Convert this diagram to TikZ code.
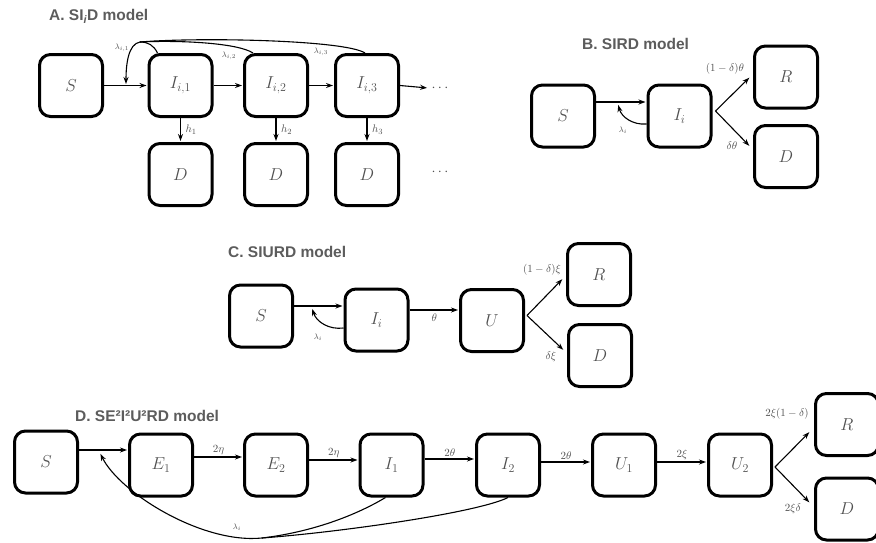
\documentclass[tikz,border=0pt]{standalone}
\usepackage{fontspec}
\newfontfamily\headfont{Liberation Sans}
\usetikzlibrary{arrows.meta}
\definecolor{txtgray}{HTML}{505050}
\definecolor{headgray}{HTML}{5C5C5C}
\tikzset{
  comp/.style={draw=black, line width=3pt, rounded corners=11pt,
    minimum width=63pt, minimum height=62pt, text=txtgray,
    font=\fontsize{18}{20}\selectfont},
  flow/.style={line width=1.1pt, -{Stealth[length=7pt,width=5pt]}, shorten >=1pt},
  feed/.style={line width=1.1pt},
  rate/.style={text=txtgray, font=\fontsize{11}{13}\selectfont, inner sep=1.5pt},
  small/.style={text=txtgray, font=\fontsize{8.5}{10}\selectfont, inner sep=1pt},
  head/.style={text=headgray, font=\headfont\bfseries\fontsize{15.5}{17}\selectfont,
    anchor=west, inner sep=0pt}
}
\begin{document}
\begin{tikzpicture}[x=1pt,y=-1pt]
\useasboundingbox (0,0) rectangle (876,542);
\clip (0,0) rectangle (876,542);

% A. SI_iD model
\node[head] (titleA) at (49,16) {A. SI\textsubscript{\itshape i}D model};
\node[comp] (SA) at (71,85.5) {$S$};
\foreach \k/\x in {1/180.5,2/276,3/367}{
  \node[comp] (IA\k) at (\x,85.5) {$I_{i,\k}$};
  \node[comp] (DA\k) at (\x,174.5) {$D$};
  \draw[flow] (IA\k.south) -- node[rate,right,xshift=3pt]{$h_\k$} (DA\k.north);
}
\node[text=txtgray,font=\fontsize{14}{16}\selectfont] (dotsA) at (440,88) {$\cdots$};
\node[text=txtgray,font=\fontsize{14}{16}\selectfont] (dotsD) at (440,172) {$\cdots$};
\draw[flow] (SA.east) -- (IA1.west);
\draw[flow] (IA1.east) -- (IA2.west);
\draw[flow] (IA2.east) -- (IA3.west);
\draw[flow] (IA3.east) -- (dotsA.west);
\coordinate (topA) at (140,42);
\coordinate (tipA) at (126,85);
\draw[feed] ([xshift=-23pt]IA1.north) .. controls +(-4,-8) and +(8,0) .. (topA);
\draw[feed] ([xshift=-23pt]IA2.north) .. controls +(-15,-10) and +(40,-2) .. (topA);
\draw[feed] ([xshift=-2pt]IA3.north) .. controls +(-20,-13) and +(60,-5) .. (topA);
\draw[flow] (topA) .. controls +(-12,2) and +(0,-20) .. (tipA);
\node[small] (lamA1) at (122,48) {$\lambda_{i,1}$};
\node[small] (lamA2) at (229,56) {$\lambda_{i,2}$};
\node[small] (lamA3) at (321,52) {$\lambda_{i,3}$};

% B. SIRD model
\node[head] (titleB) at (582,44) {B. SIRD model};
\node[comp] (SB) at (563,116) {$S$};
\node[comp] (IB) at (679.5,116) {$I_i$};
\node[comp] (RB) at (786,77) {$R$};
\node[comp] (DB) at (786,156.5) {$D$};
\draw[flow] ([yshift=14pt]SB.east) -- ([yshift=14pt]SB.east -| IB.west);
\coordinate (jB) at (618,104);
\draw[flow] ([yshift=-8pt]IB.west) to[bend left=40] (jB);
\node[small] (lamB) at (623,130) {$\lambda_i$};
\coordinate (brB) at ([xshift=3pt,yshift=5pt]IB.east);
\draw[flow] (brB) -- ([xshift=-3pt]RB.west);
\draw[flow] (brB) -- ([xshift=-3pt,yshift=10pt]DB.west);
\node[rate] (rB1) at (725,69) {$(1-\delta)\theta$};
\node[rate] (rB2) at (732,146) {$\delta\theta$};

% C. SIURD model
\node[head] (titleC) at (228,252) {C. SIURD model};
\node[comp] (SC) at (261,316) {$S$};
\node[comp] (IC) at (376.5,320) {$I_i$};
\node[comp] (UC) at (492,320.5) {$U$};
\node[comp] (RC) at (599,274.5) {$R$};
\node[comp] (DC) at (600,355.5) {$D$};
\draw[flow] ([yshift=10pt]SC.east) -- ([yshift=10pt]SC.east -| IC.west);
\coordinate (jC) at (312,308);
\draw[flow] ([yshift=-8pt]IC.west) to[bend left=40] (jC);
\node[small] (lamC) at (318,337) {$\lambda_i$};
\draw[flow] ([yshift=10pt]IC.east) -- node[rate,below,yshift=-2pt]{$\theta$} ([yshift=10pt]IC.east -| UC.west);
\coordinate (brC) at ([xshift=2pt,yshift=5pt]UC.east);
\draw[flow] (brC) -- ([xshift=-3pt,yshift=-4pt]RC.west);
\draw[flow] (brC) -- ([xshift=-3pt,yshift=5pt]DC.west);
\node[rate] (rC1) at (542,270) {$(1-\delta)\xi$};
\node[rate] (rC2) at (551,357) {$\delta\xi$};

% D. SE2I2U2RD model
\node[head] (titleD) at (75,416) {D. SE²I²U²RD model};
\node[comp] (SD) at (46,462) {$S$};
\node[comp] (E1D) at (161,465) {$E_1$};
\node[comp] (E2D) at (276,465) {$E_2$};
\node[comp] (I1D) at (391.5,465) {$I_1$};
\node[comp] (I2D) at (508,465) {$I_2$};
\node[comp] (U1D) at (624,465) {$U_1$};
\node[comp] (U2D) at (740,465) {$U_2$};
\node[comp] (RD) at (847,424.5) {$R$};
\node[comp] (DD) at (847,509) {$D$};
\draw[flow] ([yshift=12pt]SD.east) -- ([yshift=12pt]SD.east -| E1D.west);
\draw[flow] ([yshift=8pt]E1D.east) -- node[rate,above]{$2\eta$} ([yshift=8pt]E2D.west);
\draw[flow] ([yshift=5pt]E2D.east) -- node[rate,above]{$2\eta$} ([yshift=5pt]I1D.west);
\draw[flow] ([yshift=6pt]I1D.east) -- node[rate,above]{$2\theta$} ([yshift=6pt]I2D.west);
\draw[flow] ([yshift=3pt]I2D.east) -- node[rate,above]{$2\theta$} ([yshift=3pt]U1D.west);
\draw[flow] ([yshift=3pt]U1D.east) -- node[rate,above]{$2\xi$} ([yshift=3pt]U2D.west);
\coordinate (brD) at ([xshift=2pt,yshift=-2pt]U2D.east);
\draw[flow] (brD) -- ([xshift=-4pt,yshift=-7pt]RD.west);
\draw[flow] (brD) -- ([xshift=-4pt,yshift=6pt]DD.west);
\node[rate] (rD1) at (787,414) {$2\xi(1-\delta)$};
\node[rate] (rD2) at (793,509) {$2\xi\delta$};
\coordinate (lowD) at (262,538);
\coordinate (jD) at (100,453);
\draw[feed] ([xshift=-6pt]I1D.south) .. controls +(-30,18) and +(50,-6) .. (lowD);
\draw[feed] (I2D.south) .. controls +(-30,15) and +(80,-6) .. (lowD);
\draw[flow] (lowD) .. controls +(-60,6) and +(20,40) .. (jD);
\node[small] (lamD) at (237,527) {$\lambda_i$};
\end{tikzpicture}
\end{document}
